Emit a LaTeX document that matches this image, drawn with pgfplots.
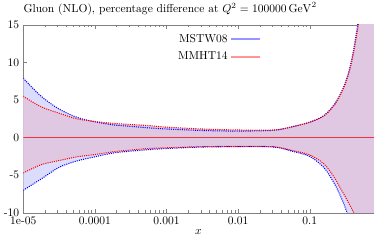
\documentclass[border=0pt]{standalone}
\usepackage{pgfplots}
\pgfplotsset{compat=1.18}
\usepgfplotslibrary{fillbetween}

\definecolor{bandblue}{RGB}{220,220,252}
\definecolor{bandred}{RGB}{224,200,226}
\definecolor{zeroline}{RGB}{240,50,60}
\definecolor{legblue}{RGB}{150,150,255}
\definecolor{legred}{RGB}{255,150,150}

\begin{document}
\begin{tikzpicture}
\begin{axis}[
    set layers,
    scale only axis,
    width=304pt,
    height=163pt,
    xmode=log,
    xmin=1e-5, xmax=0.785,
    ymin=-10, ymax=15,
    xtick={1e-5,1e-4,1e-3,1e-2,1e-1},
    xticklabels={1e-05,0.0001,0.001,0.01,0.1},
    ytick={-10,-5,0,5,10,15},
    yticklabels={-10,-5,0,5,10,15},
    xlabel={$x$},
    xlabel style={yshift=3pt},
    axis line style={gray},
    tick style={gray},
    major tick length=3.5pt,
    minor tick length=2pt,
    title={Gluon (NLO), percentage difference at $Q^2 = 100000\,\mathrm{GeV}^2$},
    title style={at={(0,1)}, anchor=south west, inner xsep=0pt, inner ysep=2pt},
    legend style={at={(0.68,0.965)}, anchor=north east, draw=none, fill=none,
        row sep=3pt, inner sep=0pt},
    legend cell align=right,
    legend plot pos=right,
    legend image code/.code={\draw[#1] (0cm,0cm) -- (0.9cm,0cm);},
]
% x, MSTW08 upper/lower, MMHT14 upper/lower (percent)
\pgfplotstableread{
x        bu    bl     hu    hl
1e-5     7.9   -7.0   5.5   -4.7
1.778e-5 5.5   -5.5   4.1   -3.6
3.162e-5 3.8   -3.95  3.25  -3.05
5.623e-5 2.7   -3.1   2.5   -2.55
1e-4     2.1   -2.55  2.15  -2.25
1.778e-4 1.7   -2.05  1.9   -1.9
3.162e-4 1.5   -1.8   1.75  -1.65
5.623e-4 1.3   -1.6   1.6   -1.45
1e-3     1.15  -1.45  1.4   -1.35
3.162e-3 0.95  -1.25  1.15  -1.2
0.01     0.87  -1.2   1.02  -1.18
0.03162  0.98  -1.25  1.02  -1.22
0.05623  1.43  -1.8   1.43  -1.7
0.1      2.05  -2.5   2.05  -2.3
0.1585   2.95  -4.0   2.9   -3.5
0.2239   4.5   -6.2   4.4   -5.4
0.2818   6.2   -8.2   6.1   -7.1
0.3162   7.4   -9.4   7.2   -7.9
0.3548   8.9   -10.8  8.7   -8.8
0.3981   11.0  -12.5  10.7  -9.7
0.4467   13.8  -14.5  13.3  -10.8
0.5012   17    -17    16.3  -12.2
0.631    25    -23    24    -16
0.7943   35    -30    33    -21
}\bands

\addplot[draw=none, name path=bu, smooth, forget plot] table[x=x, y=bu] {\bands};
\addplot[draw=none, name path=bl, smooth, forget plot] table[x=x, y=bl] {\bands};
\addplot[draw=none, name path=hu, smooth, forget plot] table[x=x, y=hu] {\bands};
\addplot[draw=none, name path=hl, smooth, forget plot] table[x=x, y=hl] {\bands};
\addplot[fill=bandblue, draw=none, forget plot] fill between[of=bu and bl];
\addplot[fill=bandred, draw=none, forget plot] fill between[of=hu and hl];

\addplot[color=blue, densely dotted, line width=0.9pt, smooth, forget plot] table[x=x, y=bu] {\bands};
\addplot[color=blue, densely dotted, line width=0.9pt, smooth, forget plot] table[x=x, y=bl] {\bands};
\addplot[color=red, densely dotted, line width=0.9pt, smooth, forget plot] table[x=x, y=hu] {\bands};
\addplot[color=red, densely dotted, line width=0.9pt, smooth, forget plot] table[x=x, y=hl] {\bands};
\addplot[color=zeroline, line width=1.1pt, forget plot] coordinates {(1e-5,0) (0.785,0)};

\addlegendimage{color=legblue, line width=1.6pt}
\addlegendentry{MSTW08}
\addlegendimage{color=legred, line width=1.6pt}
\addlegendentry{MMHT14}
\end{axis}
\end{tikzpicture}
\end{document}
